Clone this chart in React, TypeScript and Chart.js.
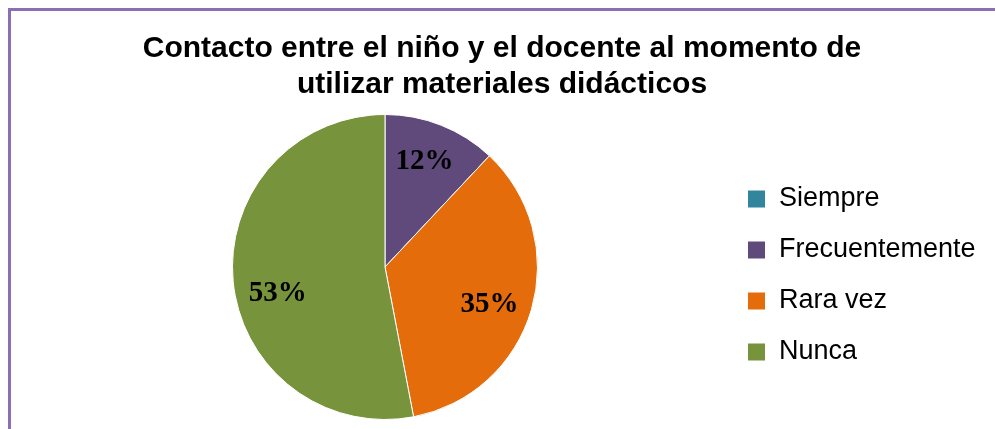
import React, { useEffect, useRef } from "react";
import { Chart, registerables } from "chart.js";

Chart.register(...registerables);

const titleLines = ["Contacto entre el niño y el docente al momento de", "utilizar materiales didácticos"];
const categories = ["Siempre", "Frecuentemente", "Rara vez", "Nunca"];
const percentages = [0, 12, 35, 53];
const sliceColors = ["#31859C", "#604A7B", "#E46C0A", "#77933C"];

const pieLabelPlugin = {
  id: "pieLabels",
  afterDatasetsDraw(chart: any, _args: any, opts: any) {
    const ctx = chart.ctx;
    const meta = chart.getDatasetMeta(0);
    const values = chart.data.datasets[0].data as number[];
    const nudges: number[][] = opts.nudges || [];
    ctx.save();
    ctx.font = "bold 29px 'Liberation Serif', 'Times New Roman', serif";
    ctx.fillStyle = "#000";
    ctx.textAlign = "center";
    ctx.textBaseline = "middle";
    meta.data.forEach((arc: any, i: number) => {
      const v = values[i];
      if (!v) return;
      const { x, y, startAngle, endAngle, outerRadius } = arc.getProps(
        ["x", "y", "startAngle", "endAngle", "outerRadius"],
        true
      );
      const mid = (startAngle + endAngle) / 2;
      const r = outerRadius * 0.72;
      const n = nudges[i] || [0, 0];
      ctx.fillText(v + "%", x + Math.cos(mid) * r + n[0], y + Math.sin(mid) * r + n[1]);
    });
    ctx.restore();
  },
};

// let the legend text run past the legend's nominal box instead of being clipped
const legendClipPlugin = {
  id: "legendClip",
  afterLayout(chart: any) {
    if (chart.legend) chart.legend.right = chart.width;
  },
};

export default function App() {
  const canvasRef = useRef<HTMLCanvasElement | null>(null);

  useEffect(() => {
    if (!canvasRef.current) return;
    const chart = new Chart(canvasRef.current, {
      type: "pie",
      data: {
        labels: categories,
        datasets: [
          {
            data: percentages,
            backgroundColor: sliceColors,
            borderColor: "#ffffff",
            borderWidth: 1,
          },
        ],
      },
      plugins: [pieLabelPlugin, legendClipPlugin],
      options: {
        responsive: false,
        animation: false,
        layout: { padding: { left: 46.5, right: 37.5, top: 0, bottom: 9 } },
        plugins: {
          title: {
            display: true,
            text: titleLines,
            color: "#000",
            font: { family: "'Liberation Sans', Arial, sans-serif", size: 30, weight: "bold", lineHeight: 1.2 },
            padding: { top: 31, bottom: 11 },
          },
          legend: {
            display: true,
            position: "right",
            fullSize: false,
            maxWidth: 234,
            title: { display: true, text: " ", font: { size: 10, lineHeight: 1.2 }, padding: 2.5 },
            labels: {
              color: "#000",
              boxWidth: 18,
              boxHeight: 18,
              padding: 24,
              font: { family: "'Liberation Sans', Arial, sans-serif", size: 27 },
            },
          },
          tooltip: { enabled: false },
          pieLabels: { nudges: [[0, 0], [-1, -3], [-1, 7], [2, 16]] },
        } as any,
      },
    });
    return () => chart.destroy();
  }, []);

  return (
    <div style={{ position: "fixed", left: 0, top: 0, width: 995, height: 429, background: "#fff", overflow: "hidden" }}>
      <div
        style={{
          position: "absolute",
          left: 8,
          top: 8,
          width: 1100,
          height: 600,
          borderLeft: "3px solid #8C6FB3",
          borderTop: "3px solid #8C6FB3",
        }}
      />
      <canvas ref={canvasRef} width={995} height={429} style={{ position: "absolute", left: 0, top: 0 }} />
    </div>
  );
}
